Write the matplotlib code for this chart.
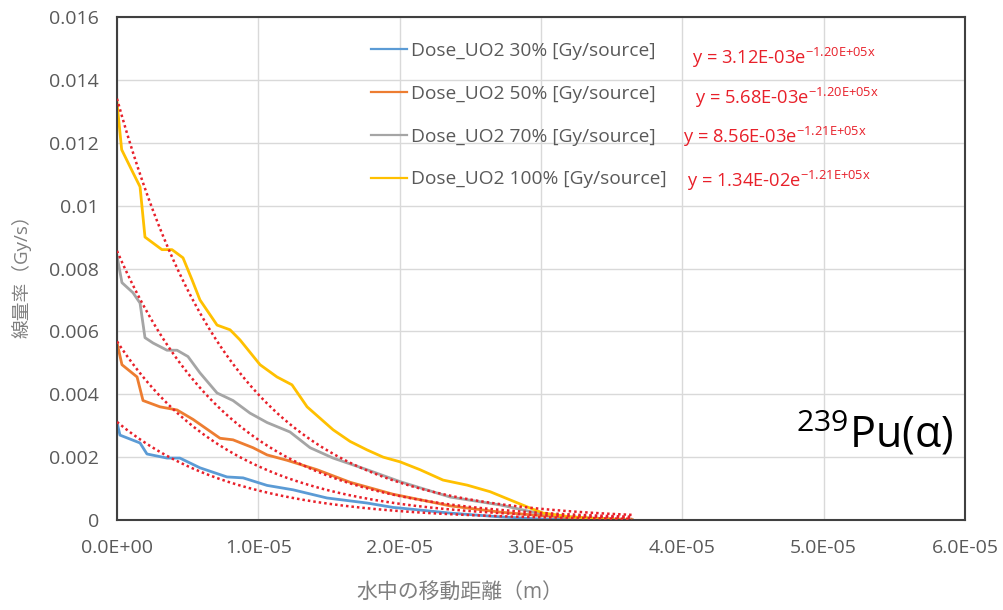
import numpy as np
import matplotlib
matplotlib.use("Agg")
import matplotlib.pyplot as plt

plt.rcParams['font.family'] = ['Open Sans', 'Noto Sans CJK JP', 'DejaVu Sans']
plt.rcParams['mathtext.fontset'] = 'custom'
plt.rcParams['mathtext.rm'] = 'Open Sans'

# distance travelled in water (m) and dose rate (Gy/s) for each UO2 fraction
x_30 = np.array([0.0, 0.021, 0.163, 0.212, 0.354, 0.445, 0.587, 0.778, 0.892, 1.062,
                 1.246, 1.486, 1.769, 1.953, 2.003, 2.357, 2.710, 3.0, 3.3, 3.645]) * 1e-5
dose_30 = [0.0031, 0.0027, 0.00245, 0.0021, 0.00197, 0.00197, 0.00166, 0.00137, 0.00134, 0.0011,
           0.00096, 0.0007, 0.00054, 0.0004, 0.00038, 0.00022, 0.0001, 0.00003, 0.00001, 0.0]

x_50 = np.array([0.0, 0.035, 0.142, 0.184, 0.304, 0.425, 0.538, 0.729, 0.821, 0.962,
                 1.062, 1.203, 1.415, 1.649, 1.953, 2.357, 2.710, 2.944, 3.3, 3.645]) * 1e-5
dose_50 = [0.00564, 0.00494, 0.00455, 0.0038, 0.0036, 0.0035, 0.0032, 0.0026, 0.00255, 0.0023,
           0.00207, 0.0019, 0.0016, 0.0012, 0.00082, 0.00045, 0.00025, 0.00016, 0.00005, 0.0]

x_70 = np.array([0.0, 0.035, 0.113, 0.163, 0.198, 0.255, 0.354, 0.425, 0.502, 0.587,
                 0.708, 0.821, 0.941, 1.062, 1.224, 1.366, 1.529, 1.769, 2.003, 2.357,
                 2.710, 2.944, 3.2, 3.645]) * 1e-5
dose_70 = [0.0084, 0.00755, 0.00723, 0.0069, 0.0058, 0.00563, 0.0054, 0.0054, 0.0052, 0.00468,
           0.00404, 0.0038, 0.0034, 0.0031, 0.0028, 0.0023, 0.00197, 0.0016, 0.00122, 0.00073,
           0.00048, 0.00025, 0.0001, 0.0]

x_100 = np.array([0.0, 0.033, 0.113, 0.163, 0.198, 0.318, 0.389, 0.467, 0.531, 0.587,
                  0.708, 0.800, 0.870, 1.012, 1.132, 1.238, 1.345, 1.529, 1.649, 1.769,
                  1.883, 2.003, 2.144, 2.307, 2.477, 2.640, 2.781, 2.923, 3.015, 3.206,
                  3.418, 3.645]) * 1e-5
dose_100 = [0.01328, 0.01178, 0.01105, 0.0106, 0.0090, 0.0086, 0.0086, 0.00834, 0.00764, 0.0070,
            0.0062, 0.00605, 0.00573, 0.00494, 0.00455, 0.0043, 0.0036, 0.00287, 0.0025, 0.00223,
            0.0020, 0.00185, 0.0016, 0.00127, 0.00111, 0.0009, 0.00064, 0.00038, 0.00022, 0.0001,
            0.00004, 0.0]

labels = ['Dose_UO2 30% [Gy/source]', 'Dose_UO2 50% [Gy/source]',
          'Dose_UO2 70% [Gy/source]', 'Dose_UO2 100% [Gy/source]']
colors = ['#5b9bd5', '#ed7d31', '#a5a5a5', '#ffc000']

# exponential fits y = a * exp(b * x)
fit_a = [3.12e-3, 5.68e-3, 8.56e-3, 1.34e-2]
fit_b = [-1.20e5, -1.20e5, -1.21e5, -1.21e5]
fit_text = ['3.12E-03', '5.68E-03', '8.56E-03', '1.34E-02']
fit_exp = ['-1.20E{+}05x', '-1.20E{+}05x', '-1.21E{+}05x', '-1.21E{+}05x']
fit_pos = [(692, 58), (695, 98), (683, 137), (687, 181)]  # figure pixels from top-left

x_ticks = np.arange(0, 6.01e-5, 1e-5)
x_ticklabels = ['0.0E+00', '1.0E-05', '2.0E-05', '3.0E-05', '4.0E-05', '5.0E-05', '6.0E-05']
y_ticks = np.arange(0, 0.0161, 0.002)
y_ticklabels = ['0', '0.002', '0.004', '0.006', '0.008', '0.01', '0.012', '0.014', '0.016']

W, H = 1004, 610
fig = plt.figure(figsize=(W / 100, H / 100), dpi=100)
ax = fig.add_axes([117 / W, 1 - 520 / H, (965 - 117) / W, (520 - 17) / H])

xs = [x_30, x_50, x_70, x_100]
ys = [dose_30, dose_50, dose_70, dose_100]
for x, y, lab, c in zip(xs, ys, labels, colors):
    ax.plot(x, y, color=c, lw=2, label=lab)

xf = np.linspace(0, 3.645e-5, 200)
for a, b in zip(fit_a, fit_b):
    ax.plot(xf, a * np.exp(b * xf), color='#e8202a', lw=1.8,
            linestyle=(0, (1, 1.2)), zorder=3)

ax.set_xlim(0, 6e-5)
ax.set_ylim(0, 0.016)
ax.set_xticks(x_ticks)
ax.set_xticklabels(x_ticklabels)
ax.set_yticks(y_ticks)
ax.set_yticklabels(y_ticklabels)
ax.tick_params(length=0, labelsize=14, labelcolor='#595959')
ax.tick_params(axis='x', pad=14)
ax.tick_params(axis='y', pad=13)
ax.grid(color='#d9d9d9', lw=1)
ax.set_axisbelow(True)
for s in ax.spines.values():
    s.set_color('#404040')
    s.set_linewidth(1.5)

leg = ax.legend(loc='upper left', bbox_to_anchor=((363 - 117) / (965 - 117), 1 - (34 - 17) / (520 - 17)),
                frameon=False, fontsize=13.8, handlelength=1.9, handletextpad=0.2,
                labelspacing=1.3, borderaxespad=0)
for t, line in zip(leg.get_texts(), leg.get_lines()):
    t.set_color('#595959')
    line.set_linewidth(1.6)

for (px, py), a_txt, e_txt in zip(fit_pos, fit_text, fit_exp):
    fig.text(px / W, 1 - py / H, 'y = ' + a_txt + 'e$^{\\mathregular{' + e_txt + '}}$',
             color='#e8202a', fontsize=13.2, va='center', ha='left')

ax.text(953 / W, 1 - 434 / H, '$^{\\mathregular{239}}$Pu(α)', transform=fig.transFigure,
        fontsize=31, ha='right', va='center', color='black')

fig.text(460 / W, 1 - 592 / H, '水中の移動距離（m）', fontsize=15, color='#7f7f7f',
         ha='center', va='center')
fig.text(22 / W, 1 - 272 / H, '線量率（Gy/s）', fontsize=13.5, color='#7f7f7f',
         ha='center', va='center', rotation=90)

fig.savefig('out.png', dpi=100)
